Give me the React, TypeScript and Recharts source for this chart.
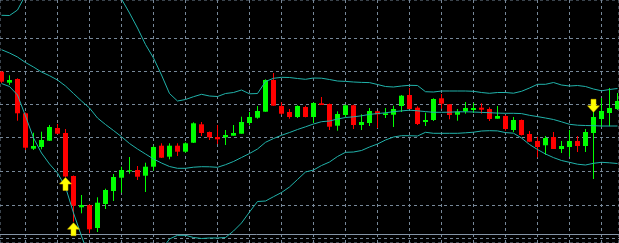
import { ComposedChart, Bar, Line, Scatter, XAxis, YAxis, CartesianGrid, ReferenceLine } from 'recharts';

// candle prices (chart units), one entry per bar, oldest first
const opens = [
  171.3, 160.3, 164, 129.7, 94.3, 96, 102.3, 115, 110, 67, 35.7, 38, 15, 39, 52, 65.3, 71.7, 73, 67.3, 76.3,
  97.3, 86.3, 97.3, 91.3, 100.3, 118.7, 111, 106, 105.7, 107.3, 109.3, 120, 125.3, 131.3, 163, 137, 131, 126, 136, 126,
  139.7, 139, 117.3, 128, 137.7, 118, 120, 131.7, 128, 128.3, 137, 148, 135.3, 121, 123, 144.7, 138.7, 128.3, 131.7, 133,
  135.3, 134, 124.3, 127, 113, 123, 109, 102, 97.7, 106, 94, 96, 102, 97, 110, 124, 130, 134,
];
const highs = [
  172, 167.7, 164.7, 130.5, 110.3, 111.3, 118, 119, 114, 67.5, 48, 38.5, 45.7, 54.3, 69, 76.3, 86, 77, 80.3, 97.3,
  99.7, 99.7, 99.7, 100.7, 120.7, 121, 111.5, 118, 113, 118, 126.3, 131, 137, 163.7, 170, 140.7, 134, 137.7, 137.3, 140.7,
  146, 139.5, 131.7, 138.3, 138.3, 128.7, 135, 132, 135, 137.3, 148, 155, 136.7, 130.3, 144.7, 149, 139, 134, 141, 140,
  139.7, 135.7, 137, 128, 126, 123.5, 112, 106.3, 107, 111, 102, 113, 107, 114, 131, 145, 155, 150,
];
const lows = [
  160, 158, 122.3, 93, 93, 93.7, 102, 109, 66, 21.3, 29.7, 9.7, 11, 34, 42, 50.3, 69.3, 63, 51, 72.3,
  85, 83.7, 87, 90.3, 100, 107, 103, 99, 98, 107.3, 109.3, 117.7, 124.3, 131.3, 137.3, 128.3, 124.3, 125, 125.7, 120.3,
  138, 113, 112.3, 125.7, 114, 113, 117, 115, 125, 116, 131, 134, 118, 117, 122, 134.3, 123.7, 122.3, 129.3, 130,
  129.3, 122, 124.3, 112.3, 111, 107.5, 101, 85.7, 88.3, 94, 90, 86.3, 91, 91, 64, 116, 116.7, 133,
];
const closes = [
  161.3, 163, 129.7, 95.3, 97, 103, 116, 109.3, 66.5, 37.3, 38, 13.7, 40.3, 53, 66, 73, 72.7, 66.3, 76.3, 96,
  85.3, 97.3, 91.3, 99.7, 119.7, 110, 105.7, 103.7, 108, 110, 121, 126, 132, 163, 137.3, 129.3, 126, 137, 126, 140,
  138, 116.3, 129, 137.7, 118, 121, 132, 128.7, 129.7, 134, 147.3, 134, 119, 123, 144, 139.3, 128, 131.3, 135, 135,
  133.3, 124, 127, 114, 123, 108, 101.3, 96, 105, 94, 97, 102, 97, 111, 126, 132, 135, 142,
];

// bollinger bands
const upperBand = [
  227.7, 227.5, 233, 248, 260, 268, 275, 280, 283, 285, 285, 283, 278, 270, 258, 244, 230, 215, 198.5, 185,
  168, 149.5, 142, 143.5, 146.3, 148.7, 147, 146.5, 149.5, 150.5, 153, 149.2, 149.5, 161.5, 164.7, 165.7, 165.5, 164.5, 163.7, 165,
  164.8, 163.5, 162, 161.6, 161, 160.6, 160.4, 158.5, 156.5, 156, 157, 157.7, 157.5, 151.3, 151, 152, 152, 152, 152, 151.7,
  150.5, 149.7, 150.5, 150.5, 149.8, 151.7, 155, 158.7, 158.7, 160.5, 158, 157, 157.5, 156.5, 154, 152.2, 153.5, 154.5,
];
const middleBand = [
  193.3, 190, 186, 180.5, 176, 171, 167.3, 163, 157, 149.5, 142, 135, 125, 118.5, 112.5, 106.3, 99.5, 94, 89, 84,
  80, 76.5, 74.7, 74.7, 75.8, 76.3, 76.2, 75.7, 78.3, 81.5, 85.5, 89.5, 94, 100.7, 104.5, 107.7, 110.5, 113.5, 116.2, 119,
  121.3, 122, 124, 125.5, 126.2, 127.2, 128.6, 129.4, 130.2, 131.3, 132.1, 132.8, 132.2, 131.4, 130.7, 130.7, 130.8, 131.2, 131.2, 131,
  130.6, 130.3, 129.9, 129.7, 129.7, 129.4, 127.7, 126.4, 125, 123.5, 121.2, 118.7, 117.8, 117.5, 117.3, 117, 117, 117,
];
const lowerBand = [
  159.5, 156.5, 148, 127, 105, 90, 79, 70, 56, 30, 7, -15, -32, -42, -47, -49, -47, -42, -32, -19,
  -7, 4, 7.7, 7.7, 5.5, 4.5, 5, 5, 5.5, 12, 20, 31, 41.5, 42, 46.3, 50.5, 56, 63.5, 71, 73,
  77.5, 81, 86.5, 90.7, 91, 92.5, 96, 99, 103, 106, 107.3, 107.3, 107, 110.7, 109.7, 109.7, 109.7, 109.7, 110.2, 110.8,
  112, 112.3, 112.1, 110.4, 109.8, 105, 98.5, 93.5, 89, 85.4, 82.5, 80.7, 78.8, 78, 79.7, 80.7, 80.2, 79.5,
];

// signal arrows: bar index and price of the arrow tip
const buyArrows = [
  { i: 8, v: 65.5 },
  { i: 9, v: 20.3 },
];
const sellArrows = [{ i: 74, v: 130.7 }];

const priceLevels = [238.5, 204.5, 171.5, 138.5, 105.5, 71.5, 37.5, 4.5];
const timeLines = [3, 7, 11, 15, 19, 23, 27, 31, 35, 39, 43, 47, 51, 55, 59, 63, 67, 71, 75];
const lastPrice = 8.5;

const data = opens.map((open, i) => ({
  i,
  open,
  high: highs[i],
  low: lows[i],
  close: closes[i],
  upper: upperBand[i],
  middle: middleBand[i],
  lower: lowerBand[i],
}));

const BULL = '#00FF00';
const BEAR = '#FF0000';
const BAND = '#20B2AA';
const GRID = '#778899';

function Candle(props: any) {
  const { x, y, width, height, payload } = props;
  if (!payload) return null;
  const { open, high, low, close } = payload;
  const top = Math.min(y, y + height);
  const h = Math.abs(height);
  const k = high - low > 0 ? h / (high - low) : 0;
  const yOf = (v: number) => top + (high - v) * k;
  const cx = Math.floor(x + width / 2);
  const color = close >= open ? BULL : BEAR;
  const bodyTop = yOf(Math.max(open, close));
  const bodyH = Math.max(1, yOf(Math.min(open, close)) - bodyTop);
  return (
    <g>
      <rect x={cx} y={top} width={1} height={Math.max(1, h)} fill={color} />
      <rect x={cx - 2} y={bodyTop} width={5} height={bodyH} fill={color} />
    </g>
  );
}

function UpArrow(props: any) {
  const { cx, cy } = props;
  const pts = [
    [0, 0], [6, 6.5], [2.5, 6.5], [2.5, 13], [-2.5, 13], [-2.5, 6.5], [-6, 6.5],
  ].map(([dx, dy]) => `${cx + dx},${cy + dy}`).join(' ');
  return <polygon points={pts} fill="#FFFF00" stroke="#E0C000" strokeWidth={0.5} />;
}

function DownArrow(props: any) {
  const { cx, cy } = props;
  const pts = [
    [0, 0], [6, -6.5], [2.5, -6.5], [2.5, -13], [-2.5, -13], [-2.5, -6.5], [-6, -6.5],
  ].map(([dx, dy]) => `${cx + dx},${cy + dy}`).join(' ');
  return <polygon points={pts} fill="#FFFF00" stroke="#E0C000" strokeWidth={0.5} />;
}

export default function App() {
  return (
    <div style={{ position: 'fixed', left: 0, top: 0, width: 619, height: 243, background: '#000' }}>
      <ComposedChart width={619} height={243} data={data} margin={{ top: 0, right: 0, bottom: 0, left: 0 }}>
        <XAxis dataKey="i" type="number" domain={[-0.1875, 77.1875]} ticks={timeLines} hide />
        <YAxis type="number" domain={[0, 243]} ticks={priceLevels} allowDataOverflow hide />
        <CartesianGrid stroke={GRID} strokeDasharray="3 3" />
        <ReferenceLine y={lastPrice} stroke="#8494A6" strokeWidth={1} />
        <Bar dataKey={(d: any) => [d.low, d.high]} barSize={5} shape={<Candle />} activeBar={false} isAnimationActive={false} />
        <Line dataKey="upper" stroke={BAND} strokeWidth={1} dot={false} activeDot={false} isAnimationActive={false} />
        <Line dataKey="middle" stroke={BAND} strokeWidth={1} dot={false} activeDot={false} isAnimationActive={false} />
        <Line dataKey="lower" stroke={BAND} strokeWidth={1} dot={false} activeDot={false} isAnimationActive={false} />
        <Scatter data={buyArrows} dataKey="v" shape={<UpArrow />} isAnimationActive={false} />
        <Scatter data={sellArrows} dataKey="v" shape={<DownArrow />} isAnimationActive={false} />
      </ComposedChart>
    </div>
  );
}
